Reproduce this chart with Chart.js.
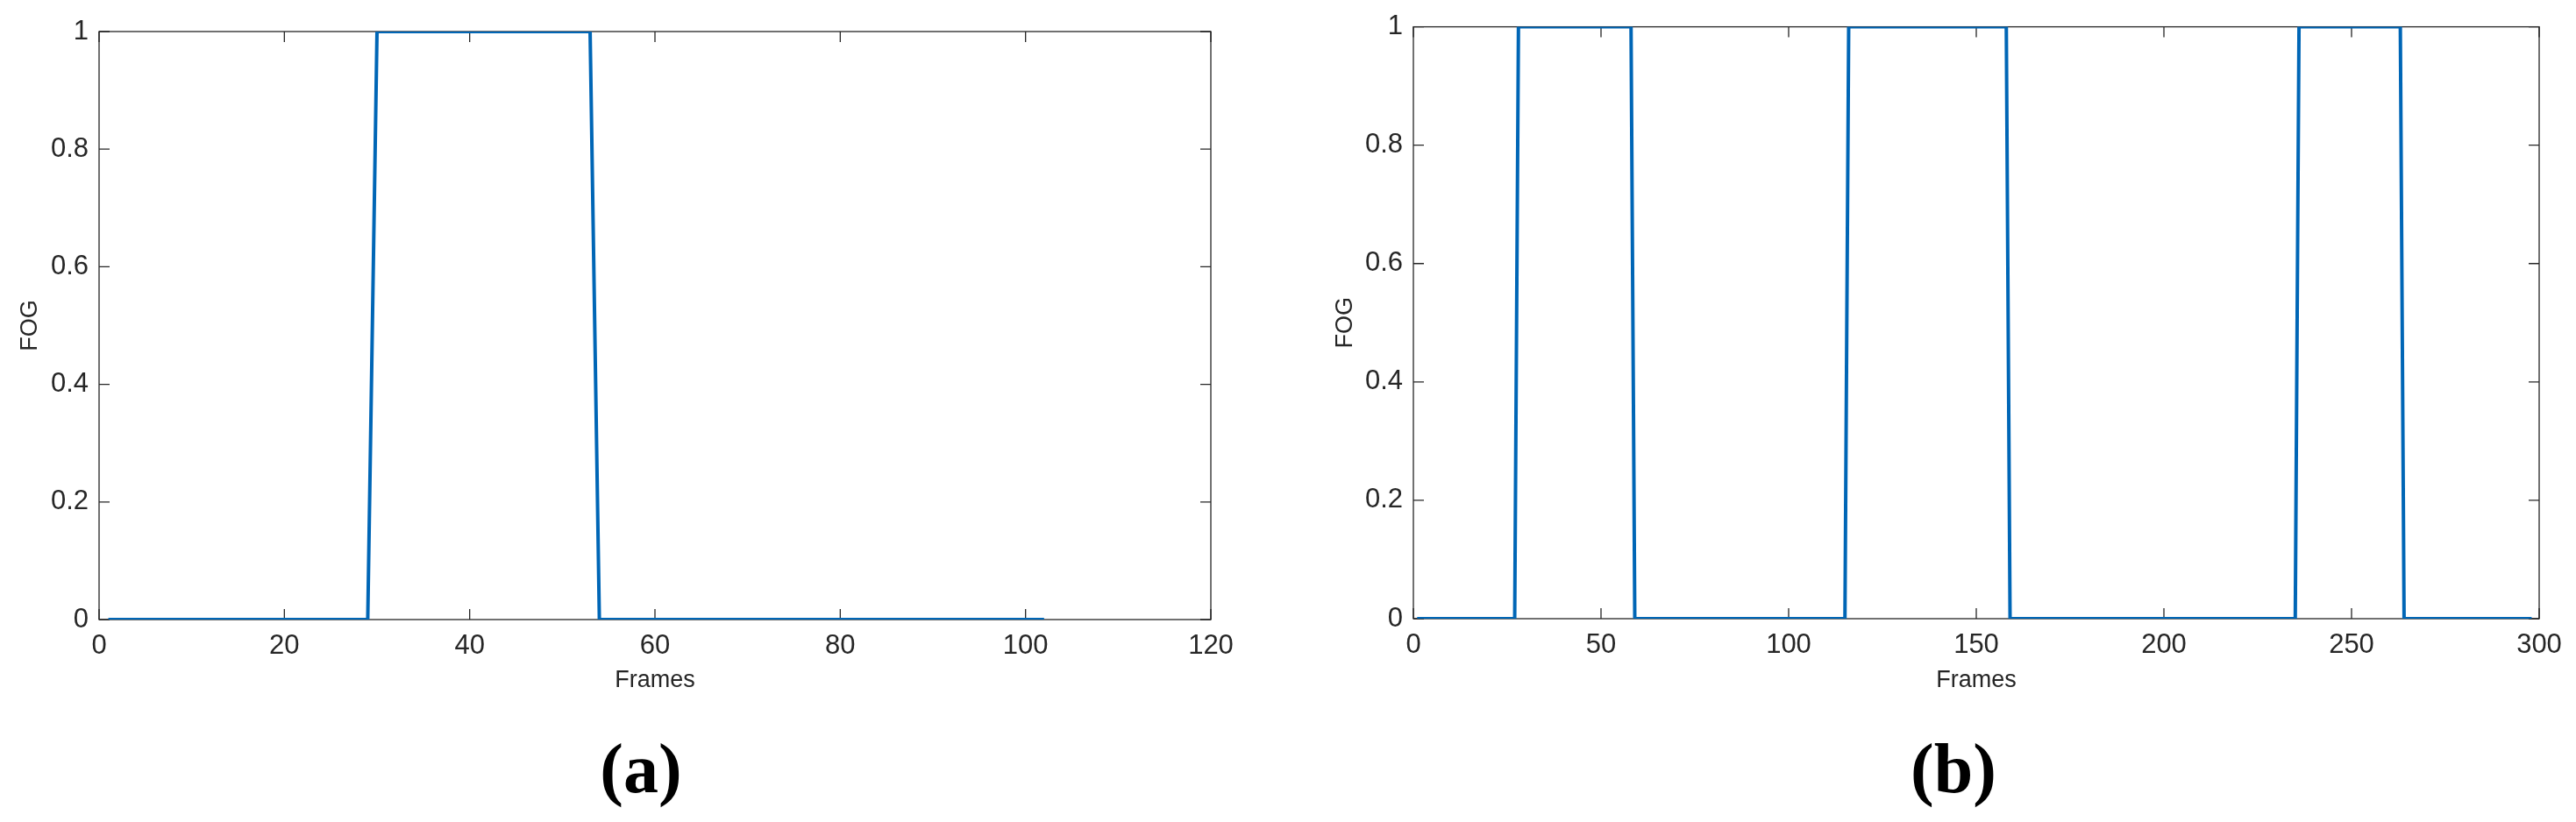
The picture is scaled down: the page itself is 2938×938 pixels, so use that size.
<!DOCTYPE html>
<html>
<head>
<meta charset="utf-8">
<title>FOG per frame</title>
<script src="https://cdn.jsdelivr.net/npm/chart.js@4.4.1/dist/chart.umd.min.js"></script>
<style>
  body { margin: 0; background: #fff; width: 2938px; height: 938px; position: relative; overflow: hidden; }
  canvas { position: absolute; top: 0; }
  #chartA { left: 0; }
  #chartB { left: 1500px; }
  .caption {
    position: absolute; top: 829px;
    font-family: "Liberation Serif", "Times New Roman", serif;
    font-weight: bold; font-size: 80px; line-height: 96px; color: #000;
    transform: translateX(-50%);
  }
</style>
</head>
<body>
<canvas id="chartA" width="1440" height="830"></canvas>
<canvas id="chartB" width="1438" height="830"></canvas>
<div class="caption" style="left:731px">(a)</div>
<div class="caption" style="left:2228px">(b)</div>

<script>
// ---------- data (frames where the FOG flag switches) ----------
const framesA = [1, 29, 30, 53, 54, 102];
const fogA    = [0, 0, 1, 1, 0, 0];

const framesB = [1, 27, 28, 58, 59, 115, 116, 158, 159, 235, 236, 263, 264, 298];
const fogB    = [0, 0, 1, 1, 0, 0, 1, 1, 0, 0, 1, 1, 0, 0];

const xTicksA = [0, 20, 40, 60, 80, 100, 120];
const xTicksB = [0, 50, 100, 150, 200, 250, 300];
const yTicks  = [0, 0.2, 0.4, 0.6, 0.8, 1];

const TICK_LEN = 12;
const AXIS_COLOR = "#262626";

// matlab style box with inward ticks on all four sides
const boxTicks = {
  id: "boxTicks",
  beforeDatasetsDraw(chart) {
    const { ctx, chartArea: a, scales: { x, y } } = chart;
    ctx.save();
    ctx.strokeStyle = AXIS_COLOR;
    ctx.lineWidth = 1.3;
    ctx.strokeRect(a.left, a.top, a.right - a.left, a.bottom - a.top);
    ctx.beginPath();
    x.ticks.forEach(t => {
      const px = x.getPixelForValue(t.value);
      ctx.moveTo(px, a.bottom); ctx.lineTo(px, a.bottom - TICK_LEN);
      ctx.moveTo(px, a.top);    ctx.lineTo(px, a.top + TICK_LEN);
    });
    y.ticks.forEach(t => {
      const py = y.getPixelForValue(t.value);
      ctx.moveTo(a.left, py);  ctx.lineTo(a.left + TICK_LEN, py);
      ctx.moveTo(a.right, py); ctx.lineTo(a.right - TICK_LEN, py);
    });
    ctx.stroke();
    ctx.restore();
  }
};

function makeChart(id, frames, values, xTicks, box) {
  const ctx = document.getElementById(id);
  const tickFont = { family: "'Liberation Sans', Arial, sans-serif", size: 31 };
  const titleFont = { family: "'Liberation Sans', Arial, sans-serif", size: 27 };

  return new Chart(ctx, {
    type: "line",
    data: {
      datasets: [{
        data: frames.map((f, i) => ({ x: f, y: values[i] })),
        borderColor: "#0066b6",
        borderWidth: 4,
        pointRadius: 0,
        tension: 0,
        borderJoinStyle: "miter",
        fill: false
      }]
    },
    options: {
      responsive: false,
      animation: false,
      layout: { padding: { top: box.top, right: box.right, bottom: 0, left: 0 } },
      plugins: { legend: { display: false }, tooltip: { enabled: false } },
      scales: {
        x: {
          type: "linear",
          min: xTicks[0],
          max: xTicks[xTicks.length - 1],
          afterBuildTicks: s => { s.ticks = xTicks.map(v => ({ value: v })); },
          afterFit: s => { s.height = box.xHeight; },
          grid: { display: false, drawTicks: false },
          border: { display: false },
          ticks: { color: AXIS_COLOR, font: tickFont, padding: 12, maxRotation: 0, callback: v => String(v) },
          title: { display: true, text: "Frames", color: AXIS_COLOR, font: titleFont, padding: { top: 0, bottom: 37 } }
        },
        y: {
          min: 0,
          max: 1,
          afterBuildTicks: s => { s.ticks = yTicks.map(v => ({ value: v })); },
          afterFit: s => { s.width = box.yWidth; },
          grid: { display: false, drawTicks: false },
          border: { display: false },
          ticks: { color: AXIS_COLOR, font: tickFont, padding: 12, callback: v => String(v) },
          title: { display: true, text: "FOG", color: AXIS_COLOR, font: titleFont, padding: { top: 18, bottom: 0 } }
        }
      }
    },
    plugins: [boxTicks]
  });
}

makeChart("chartA", framesA, fogA, xTicksA, { top: 36, right: 59, xHeight: 123, yWidth: 113 });
makeChart("chartB", framesB, fogB, xTicksB, { top: 27, right: 42, xHeight: 124, yWidth: 112 });
</script>
</body>
</html>
